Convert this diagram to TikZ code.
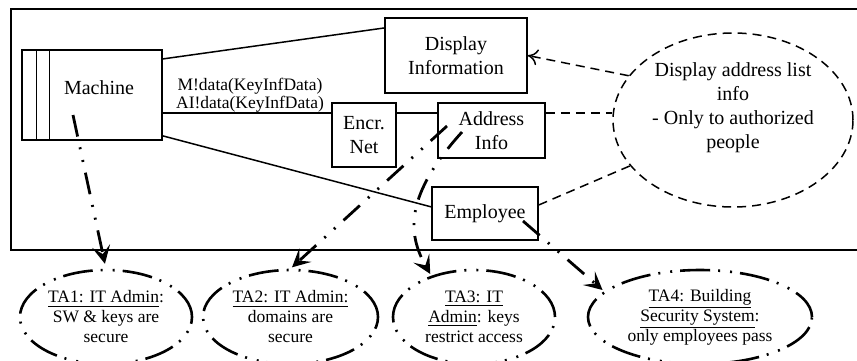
\documentclass[tikz,border=0pt]{standalone}
\usepackage{fontspec}
\setmainfont{Liberation Serif}
\usetikzlibrary{arrows.meta,shapes.geometric}
\begin{document}
\begin{tikzpicture}[x=0.5pt,y=-0.5pt,
  box/.style={draw, line width=0.75pt, align=center, inner sep=0pt},
  goal/.style={draw, ellipse, dash pattern=on 4.5pt off 3pt, line width=0.75pt, inner sep=0pt},
  threat/.style={draw, ellipse, line width=1.3pt, align=center, inner sep=0pt,
    dash pattern=on 15pt off 4pt on 1pt off 5pt on 1pt off 4pt,
    font=\fontsize{8.75}{10}\selectfont},
  attack/.style={line width=1.4pt,
    dash pattern=on 11pt off 5.5pt on 1pt off 5.5pt on 1pt off 5.5pt,
    -{Stealth[length=9pt,width=9pt,inset=4pt]}},
  link/.style={line width=0.75pt},
  hint/.style={dash pattern=on 4.5pt off 3pt, line width=0.75pt},
  small/.style={font=\fontsize{8.75}{8}\selectfont, align=center}]
\useasboundingbox (0,0) rectangle (857,360);
%System frame
\draw[line width=0.75pt] (11,9) rectangle (870,250);
%Machine
\node[box, minimum width=70pt, minimum height=45pt] (machine) at (92,95) {};
\draw[link] ([xshift=7.5pt]machine.north west) -- ([xshift=7.5pt]machine.south west);
\draw[link] ([xshift=14pt]machine.north west) -- ([xshift=14pt]machine.south west);
\node (machinetext) at (99,88) {Machine};
\node[small] (msglabel) at (250,95) {M!data(KeyInfData)\\AI!data(KeyInfData)};
%Components
\node[box, minimum width=71pt, minimum height=37.5pt] (display) at (456,55.5) {Display\\Information};
\node[box, minimum width=32pt, minimum height=32pt] (encr) at (364,135) {Encr.\\Net};
\node[box, minimum width=53.5pt, minimum height=27.5pt] (addr) at (491.5,130.5) {Address\\Info};
\node[box, minimum width=53pt, minimum height=26.5pt] (employee) at (485,213.5) {Employee};
%Security goal
\node[goal, minimum width=120pt, minimum height=87pt] (goal) at (733,120) {};
\node[align=center] (goaltext) at (733,108) {Display address list\\info\\- Only to authorized\\people};
%Threat assumptions
\node[threat, minimum width=86pt, minimum height=47pt] (ta1) at (106,317)
  {\underline{TA1: IT Admin}:\\SW \& keys are\\secure};
\node[threat, minimum width=87.5pt, minimum height=47pt] (ta2) at (290.5,317)
  {\underline{TA2: IT Admin:}\\domains are\\secure};
\node[threat, minimum width=81pt, minimum height=47pt] (ta3) at (474,317)
  {\underline{TA3: IT}\\\underline{Admin}: keys\\restrict access};
\node[threat, minimum width=112pt, minimum height=47pt] (ta4) at (700,317)
  {\underline{TA4: Building}\\\underline{Security System}:\\only employees pass};
%Channels
\coordinate (bus) at (0,113);
\draw[link] (machine.27) -- (display.159);
\draw[link] (machine.east |- bus) -- (encr.west |- bus);
\draw[link] (encr.east |- bus) -- (addr.west |- bus);
\draw[link] (machine.-30) -- (employee.173);
%Goal hints
\draw[hint, -{To[length=5pt,width=8pt]}] (goal.157) -- (display.east);
\draw[hint] (addr.east |- bus) -- (goal.west |- bus);
\draw[hint] (employee.9) -- (goal.204);
%Attacks
\coordinate (mstart) at (73,115);
\coordinate (a2start) at (447,126);
\coordinate (a3start) at (462,132);
\coordinate (estart) at (523,221);
\draw[attack, shorten >=2.5pt] (mstart) -- (ta1.north);
\draw[attack, shorten >=1pt] (a2start) -- (ta2.north);
\draw[attack, shorten >=1pt] (a3start) .. controls (405,195) and (407,233) .. (ta3.136);
\draw[attack, shorten >=1pt] (estart) -- (ta4.165);
\end{tikzpicture}
\end{document}
